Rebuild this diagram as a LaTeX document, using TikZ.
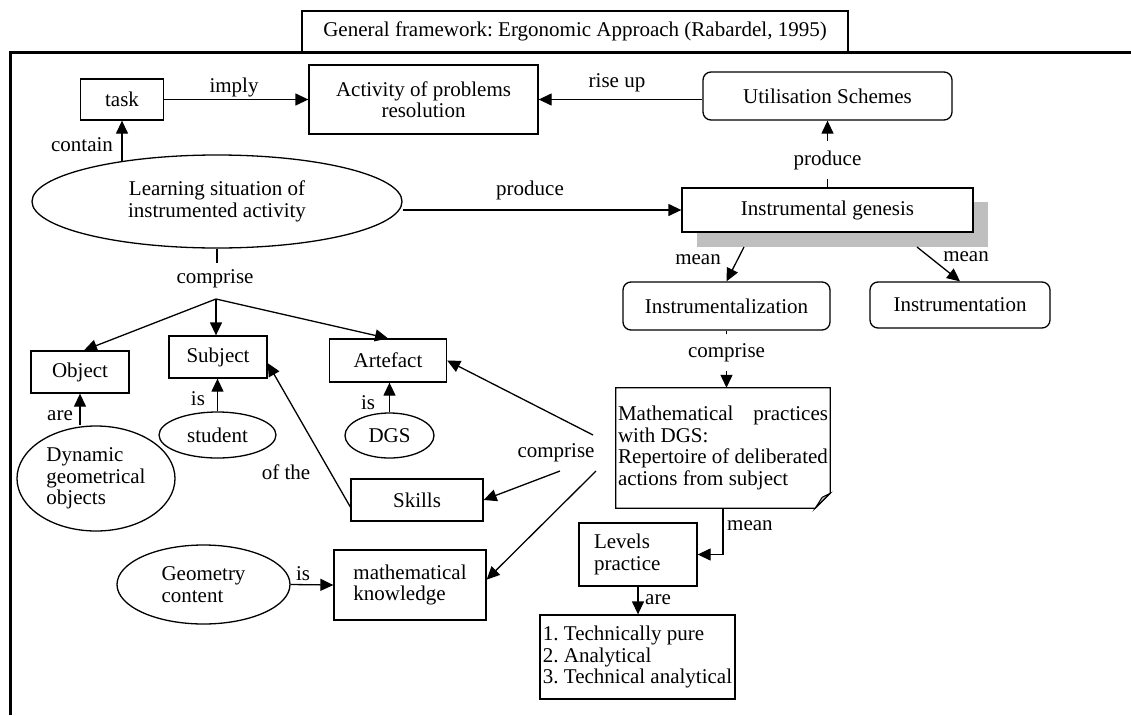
\documentclass[tikz,border=0pt]{standalone}
\usepackage{fontspec}
\setmainfont{Liberation Serif}
\usetikzlibrary{arrows.meta,shapes.geometric}
\frenchspacing
\begin{document}
\begin{tikzpicture}[x=1pt,y=-1pt,
  every node/.style={font=\fontsize{21}{21.5}\selectfont, inner sep=0pt},
  box/.style={draw, line width=1.3pt, fill=white, rectangle, align=center},
  rbox/.style={box, rounded corners=8pt},
  oval/.style={draw, line width=1.3pt, fill=white, ellipse, align=center},
  conn/.style={line width=1.3pt},
  arr/.style={conn, -{Triangle[length=13pt,width=12pt]}},
  cut/.style={fill=white, inner xsep=2pt, inner ysep=9pt},
]
\useasboundingbox (0,0) rectangle (1131,715);

% title and frame
\node[box, minimum width=546pt, minimum height=41pt] (title) at (575,31.5) {General framework: Ergonomic Approach (Rabardel, 1995)};
\draw[line width=3pt] (10,715) -- (10,52) -- (1131,52);

% top row
\node[box, minimum width=83pt, minimum height=41pt] (task) at (122,99.5) {task};
\node[box, minimum width=229pt, minimum height=69pt] (act) at (423.5,99.5) {Activity of problems\\resolution};
\node[rbox, minimum width=249pt, minimum height=48pt] (util) at (827.5,96) {Utilisation Schemes};
\node[oval, minimum width=370pt, minimum height=93pt] (learn) at (217,201.5) {Learning situation of\\instrumented activity};

% instrumental genesis with shadow
\node[fill=black!25, minimum width=291pt, minimum height=45pt] (shadow) at (842.5,224.5) {};
\node[box, minimum width=291pt, minimum height=44pt] (ig) at (827.5,210) {Instrumental genesis};
\node[rbox, minimum width=207pt, minimum height=48pt] (iz) at (726.5,306) {Instrumentalization};
\node[rbox, minimum width=180pt, minimum height=46pt] (in) at (960,305) {Instrumentation};

% mathematical practices (folded note)
\node[minimum width=214pt, minimum height=120pt, align=left] (mp) at (723,448)
  {\makebox[210pt][s]{Mathematical practices}\\with DGS:\\Repertoire of deliberated\\actions from subject};
\draw[line width=1.3pt] (mp.north west) -- (mp.north east) -- ([yshift=15pt]mp.south east)
  -- ([xshift=-15pt]mp.south east) -- (mp.south west) -- cycle;
\filldraw[fill=black!25, line width=1pt] ([yshift=15pt]mp.south east) -- ([xshift=-15pt]mp.south east)
  -- ([xshift=-8pt,yshift=11pt]mp.south east) -- cycle;

\node[box, minimum height=63pt, text width=88pt, inner xsep=15pt, align=left] (lev) at (638,554.5) {Levels\\practice};
\node[box, minimum width=195pt, minimum height=84pt, align=left] (tech) at (637.5,657) {1. Technically pure\\2. Analytical\\3. Technical analytical};

% left part
\node[box, minimum width=98pt, minimum height=42pt] (obj) at (80,372) {Object};
\node[box, minimum width=98pt, minimum height=42pt] (subj) at (218,357) {Subject};
\node[box, minimum width=117pt, minimum height=43pt] (art) at (388,360.5) {Artefact};
\node[oval, minimum width=117pt, minimum height=46pt] (stu) at (217.5,435) {student};
\node[oval, minimum width=89pt, minimum height=45pt] (dgs) at (389.5,435.5) {DGS};
\node[oval, minimum width=158pt, minimum height=105pt, align=left] (dyn) at (96,478.5) {Dynamic\\geometrical\\objects};
\node[box, minimum width=132pt, minimum height=42pt] (sk) at (417,500) {Skills};
\node[box, minimum width=152pt, minimum height=70pt, align=left] (mk) at (410,585) {mathematical\\knowledge};
\node[oval, minimum width=173pt, minimum height=79pt, align=left] (geo) at (203.5,584.5) {Geometry\\content};

% connectors, top
\draw[arr] (task.east) -- (act.west);
\node (limply) at (234,87) {imply};
\draw[arr] (act.east -| util.west) -- (act.east);
\node (lrise) at (617,83) {rise up};
\draw[arr] (learn.156.7 -| task.south) -- (task.south);
\node (lcontain) at (82,145) {contain};
\draw[arr] (ig.west -| learn.east) -- (ig.west);
\node (lprod1) at (530,190) {produce};
\draw[arr] (ig.north) -- (util.south) node[cut, pos=0.41] (lprod2) {produce};

\coordinate (m1) at (744,247);
\coordinate (m2) at (917,247);
\draw[arr] (m1) -- (iz.north);
\node (lmean1) at (698,260) {mean};
\draw[arr] (m2) -- (in.north);
\node (lmean2) at (966,257) {mean};

\draw[arr] (iz.south) -- (iz.south |- mp.north) node[cut, pos=0.38] (lcomp3) {comprise};
\draw[arr] (mp.south) |- (lev.east);
\node[anchor=west] (lmean3) at (727,526) {mean};
\draw[arr] (lev.south) -- (lev.south |- tech.north);
\node (lare2) at (658,600) {are};

% connectors, left
\coordinate (cstub) at (217,263);
\coordinate (br) at (216,299);
\draw[conn] (learn.south) -- (cstub);
\node (lcomp1) at (215,279) {comprise};
\draw[arr] (br) -- ([xshift=4pt]obj.north);
\draw[arr] (br) -- (br |- subj.north);
\draw[arr] (br) -- (art.north);

\draw[arr] (obj.south |- dyn.north) -- (obj.south);
\node (lare1) at (60,416) {are};
\draw[arr] (stu.north) -- (stu.north |- subj.south);
\node (lis1) at (198,399) {is};
\draw[arr] (dgs.north) -- (dgs.north |- art.south);
\node (lis2) at (368,403) {is};
\draw[arr] (sk.186) -- (subj.-7);
\node (lofthe) at (286,472) {of the};

\coordinate (ra) at (593,435);
\coordinate (rs) at (560,471);
\coordinate (rm) at (596,471);
\node (lcomp2) at (556,453) {comprise};
\draw[arr] (ra) -- (art.east);
\draw[arr] (rs) -- (sk.east);
\draw[arr] (rm) -- (mk.4);

\draw[arr] (geo.east) -- (mk.west);
\node (lis3) at (303,574) {is};
\end{tikzpicture}
\end{document}
